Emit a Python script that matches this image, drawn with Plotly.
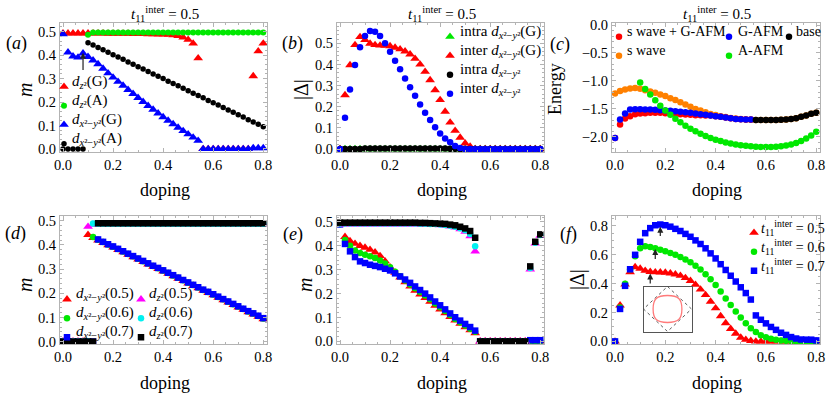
import plotly.graph_objects as go

# ---------------- data ----------------
doping = [0.00, 0.02, 0.04, 0.06, 0.08, 0.10, 0.12, 0.14, 0.16, 0.18,
          0.20, 0.22, 0.24, 0.26, 0.28, 0.30, 0.32, 0.34, 0.36, 0.38,
          0.40, 0.42, 0.44, 0.46, 0.48, 0.50, 0.52, 0.54, 0.56, 0.58,
          0.60, 0.62, 0.64, 0.66, 0.68, 0.70, 0.72, 0.74, 0.76, 0.78, 0.80]

# (a) magnetisation, t11 = 0.5
a_dz2_G = [0.493, 0.493, 0.493, 0.493, 0.493, 0.493, 0.493, 0.493, 0.493, 0.492,
           0.492, 0.492, 0.492, 0.492, 0.491, 0.491, 0.491, 0.490, 0.490, 0.489,
           0.489, 0.487, 0.485, 0.482, 0.476, 0.466, 0.450, 0.387, 0.0, 0.0,
           0.0, 0.0, 0.0, 0.0, 0.0, 0.0, 0.0, 0.0, 0.311, 0.417, 0.450]
a_dz2_A = [None, None, None, None, None, 0.487, 0.497, 0.497, 0.497, 0.497,
           0.497, 0.497, 0.497, 0.497, 0.497, 0.497, 0.497, 0.497, 0.497, 0.497,
           0.497, 0.497, 0.497, 0.497, 0.497, 0.497, 0.497, 0.497, 0.497, 0.497,
           0.497, 0.497, 0.497, 0.497, 0.497, 0.497, 0.497, 0.497, 0.497, 0.497, 0.497]
a_dx2_G = [0.490, 0.412, 0.395, 0.390, 0.408, 0.393, 0.378, 0.362, 0.343, 0.323,
           0.305, 0.287, 0.270, 0.252, 0.235, 0.218, 0.201, 0.184, 0.168, 0.152,
           0.136, 0.121, 0.106, 0.091, 0.077, 0.063, 0.049, 0.035, 0.0, 0.0,
           0.0, 0.0, 0.0, 0.0, 0.0, 0.0, 0.0, 0.0, 0.004, 0.004, 0.004]
a_dx2_A = [0.0, 0.0, 0.0, 0.0, 0.0, 0.453, 0.443, 0.433, 0.423, 0.412,
           0.402, 0.392, 0.382, 0.371, 0.361, 0.351, 0.341, 0.330, 0.320, 0.310,
           0.300, 0.289, 0.279, 0.269, 0.259, 0.248, 0.238, 0.228, 0.218, 0.207,
           0.197, 0.187, 0.177, 0.166, 0.156, 0.146, 0.136, 0.125, 0.115, 0.105, 0.095]
a_arrow = (0.08, 0.33, 0.41)  # doping, tail, head

# (b) pairing amplitudes
b_intra_G = [0.0, 0.0, 0.0, 0.0, 0.0, 0.0, 0.0, 0.0, 0.0, 0.0,
             0.0, 0.0, 0.0, 0.0, 0.0, 0.0, 0.0, 0.0, 0.0, 0.0,
             0.0, 0.0, 0.0, 0.0, 0.0, 0.0, 0.0, 0.0, 0.0, 0.0,
             0.0, 0.0, 0.0, 0.0, 0.0, 0.0, 0.0, 0.0, 0.0, 0.0, 0.0]
b_inter_G = [0.0, 0.255, 0.397, 0.492, 0.530, 0.516, 0.499, 0.492, 0.490, 0.489,
             0.487, 0.480, 0.472, 0.462, 0.448, 0.427, 0.400, 0.366, 0.326, 0.279,
             0.232, 0.177, 0.126, 0.087, 0.054, 0.027, 0.012, 0.0, 0.0, 0.0,
             0.0, 0.0, 0.0, 0.0, 0.0, 0.0, 0.0, 0.0, 0.0, 0.0, 0.0]
b_intra = [0.0, 0.0, 0.0, 0.0, 0.0, 0.003, 0.003, 0.003, 0.003, 0.003,
           0.003, 0.003, 0.003, 0.003, 0.003, 0.003, 0.003, 0.003, 0.003, 0.003,
           0.003, 0.002, 0.001, 0.001, 0.0, 0.0, 0.0, 0.0, 0.0, 0.0,
           0.0, 0.0, 0.0, 0.0, 0.0, 0.0, 0.0, 0.0, 0.0, 0.0, 0.0]
b_inter = [0.0, 0.148, 0.282, 0.397, 0.481, 0.535, 0.558, 0.555, 0.535, 0.500,
           0.460, 0.418, 0.377, 0.334, 0.292, 0.252, 0.211, 0.172, 0.137, 0.103,
           0.074, 0.050, 0.032, 0.014, 0.005, 0.0, 0.0, 0.0, 0.0, 0.0,
           0.0, 0.0, 0.0, 0.0, 0.0, 0.0, 0.0, 0.0, 0.0, 0.0, 0.0]

# (c) energies
c_swave = [-1.224, -1.180, -1.152, -1.134, -1.128, -1.140, -1.164, -1.188, -1.210, -1.240,
           -1.270, -1.310, -1.340, -1.380, -1.420, -1.460, -1.500, -1.530, -1.560, -1.590,
           -1.610, -1.630, -1.645, -1.660, -1.672, -1.682, -1.690, -1.692, -1.700, -1.700,
           -1.700, -1.700, -1.700, -1.695, -1.690, -1.678, -1.666, -1.642, -1.618, -1.588, -1.568]
c_swave_G = [-2.018, -1.779, -1.672, -1.630, -1.594, -1.582, -1.576, -1.570, -1.570, -1.570,
             -1.576, -1.582, -1.588, -1.594, -1.600, -1.606, -1.612, -1.615, -1.618, -1.618,
             -1.630, -1.642, -1.654, -1.666, -1.678, -1.684, -1.690, -1.690, None, None,
             None, None, None, None, None, None, None, None, None, None, None]
c_G = [-2.018, -1.690, -1.582, -1.510, -1.504, -1.504, -1.510, -1.510, -1.516, -1.522,
       -1.528, -1.534, -1.540, -1.552, -1.558, -1.570, -1.582, -1.594, -1.606, -1.618,
       -1.630, -1.642, -1.654, -1.666, -1.678, -1.684, -1.690, -1.690, None, None,
       None, None, None, None, None, None, None, None, None, None, None]
c_base = [None, None, None, None, None, None, None, None, None, None,
          None, None, None, None, None, None, None, None, None, None,
          None, None, None, None, None, None, None, None, -1.700, -1.700,
          -1.700, -1.700, -1.700, -1.695, -1.690, -1.678, -1.666, -1.642, -1.618, -1.588, -1.570]
c_A = [None, None, None, None, None, -1.027, -1.146, -1.242, -1.343, -1.445,
       -1.530, -1.605, -1.675, -1.740, -1.800, -1.855, -1.900, -1.945, -1.985, -2.020,
       -2.050, -2.075, -2.100, -2.120, -2.135, -2.150, -2.160, -2.168, -2.175, -2.179,
       -2.180, -2.180, -2.176, -2.168, -2.155, -2.137, -2.110, -2.075, -2.030, -1.975, -1.910]

# (d) A-AFM moments for t11 = 0.5 / 0.6 / 0.7
d_x05 = [0.0, 0.0, 0.0, 0.0, 0.0, 0.442, 0.429, 0.419, 0.409, 0.399,
         0.390, 0.380, 0.370, 0.360, 0.350, 0.340, 0.330, 0.320, 0.310, 0.301,
         0.291, 0.281, 0.271, 0.261, 0.251, 0.241, 0.231, 0.221, 0.211, 0.202,
         0.192, 0.182, 0.172, 0.162, 0.152, 0.142, 0.132, 0.122, 0.113, 0.103, 0.093]
d_x06 = [0.0, 0.0, 0.0, 0.0, 0.0, 0.0, 0.433, 0.422, 0.412, 0.402,
         0.393, 0.383, 0.373, 0.363, 0.353, 0.343, 0.333, 0.323, 0.313, 0.304,
         0.294, 0.284, 0.274, 0.264, 0.254, 0.244, 0.234, 0.224, 0.214, 0.205,
         0.195, 0.185, 0.175, 0.165, 0.155, 0.145, 0.135, 0.125, 0.116, 0.106, 0.096]
d_x07 = [0.0, 0.0, 0.0, 0.0, 0.0, 0.0, 0.0, 0.423, 0.413, 0.403,
         0.394, 0.384, 0.374, 0.364, 0.354, 0.344, 0.334, 0.324, 0.314, 0.305,
         0.295, 0.285, 0.275, 0.265, 0.255, 0.245, 0.235, 0.225, 0.215, 0.206,
         0.196, 0.186, 0.176, 0.166, 0.156, 0.146, 0.136, 0.126, 0.117, 0.107, 0.097]
d_z05 = [0.0, 0.0, 0.0, 0.0, 0.0, 0.476, 0.484, 0.486, 0.486, 0.486,
         0.486, 0.486, 0.486, 0.486, 0.486, 0.486, 0.486, 0.486, 0.486, 0.486,
         0.486, 0.486, 0.486, 0.486, 0.486, 0.486, 0.486, 0.486, 0.486, 0.486,
         0.486, 0.486, 0.486, 0.486, 0.486, 0.486, 0.486, 0.486, 0.486, 0.486, 0.486]
d_z06 = [0.0, 0.0, 0.0, 0.0, 0.0, 0.0, 0.489, 0.488, 0.488, 0.488,
         0.488, 0.488, 0.488, 0.488, 0.488, 0.488, 0.488, 0.488, 0.488, 0.488,
         0.488, 0.488, 0.488, 0.488, 0.488, 0.488, 0.488, 0.488, 0.488, 0.488,
         0.488, 0.488, 0.488, 0.488, 0.488, 0.488, 0.488, 0.488, 0.488, 0.488, 0.488]
d_z07 = [0.0, 0.0, 0.0, 0.0, 0.0, 0.0, 0.0, 0.490, 0.490, 0.490,
         0.490, 0.490, 0.490, 0.490, 0.490, 0.490, 0.490, 0.490, 0.490, 0.490,
         0.490, 0.490, 0.490, 0.490, 0.490, 0.490, 0.490, 0.490, 0.490, 0.490,
         0.490, 0.490, 0.490, 0.490, 0.490, 0.490, 0.490, 0.490, 0.490, 0.490, 0.490]

# (e) G-AFM moments for t11 = 0.5 / 0.6 / 0.7
e_x05 = [0.490, 0.438, 0.420, 0.409, 0.400, 0.393, 0.384, 0.373, 0.358, 0.336,
         0.310, 0.288, 0.268, 0.248, 0.230, 0.213, 0.197, 0.182, 0.166, 0.150,
         0.134, 0.118, 0.103, 0.088, 0.074, 0.060, 0.047, 0.035, 0.0, 0.0,
         0.0, 0.0, 0.0, 0.0, 0.0, 0.0, 0.0, 0.0, 0.0, 0.0, 0.0]
e_x06 = [0.490, 0.424, 0.400, 0.381, 0.370, 0.363, 0.356, 0.349, 0.339, 0.326,
         0.310, 0.292, 0.273, 0.255, 0.238, 0.222, 0.207, 0.192, 0.176, 0.159,
         0.143, 0.127, 0.110, 0.094, 0.080, 0.066, 0.053, 0.040, 0.0, 0.0,
         0.0, 0.0, 0.0, 0.0, 0.0, 0.0, 0.0, 0.0, 0.0, 0.0, 0.0]
e_x07 = [0.490, 0.408, 0.377, 0.353, 0.335, 0.328, 0.321, 0.316, 0.311, 0.304,
         0.297, 0.285, 0.272, 0.259, 0.245, 0.230, 0.215, 0.200, 0.184, 0.167,
         0.151, 0.134, 0.117, 0.101, 0.087, 0.073, 0.060, 0.045, 0.0, 0.0,
         0.0, 0.0, 0.0, 0.0, 0.0, 0.0, 0.0, 0.0, 0.005, 0.005, 0.005]
e_z05 = [0.490, 0.490, 0.490, 0.490, 0.490, 0.490, 0.490, 0.490, 0.490, 0.490,
         0.490, 0.490, 0.490, 0.490, 0.490, 0.490, 0.490, 0.489, 0.489, 0.488,
         0.487, 0.485, 0.482, 0.477, 0.470, 0.460, 0.441, 0.377, 0.0, 0.0,
         0.0, 0.0, 0.0, 0.0, 0.0, 0.0, 0.0, 0.0, 0.302, 0.410, 0.443]
e_z06 = [0.494, 0.494, 0.494, 0.494, 0.494, 0.494, 0.494, 0.494, 0.494, 0.494,
         0.494, 0.494, 0.494, 0.494, 0.494, 0.494, 0.493, 0.493, 0.492, 0.491,
         0.489, 0.487, 0.484, 0.480, 0.474, 0.465, 0.450, 0.398, 0.0, 0.0,
         0.0, 0.0, 0.0, 0.0, 0.0, 0.0, 0.0, 0.0, 0.307, 0.413, 0.445]
e_z07 = [0.497, 0.497, 0.497, 0.497, 0.497, 0.497, 0.497, 0.497, 0.497, 0.497,
         0.497, 0.497, 0.497, 0.497, 0.497, 0.497, 0.496, 0.496, 0.495, 0.494,
         0.493, 0.492, 0.489, 0.486, 0.480, 0.473, 0.462, 0.434, 0.0, 0.0,
         0.0, 0.0, 0.0, 0.0, 0.0, 0.0, 0.0, 0.0, 0.314, 0.417, 0.448]

# (f) |Delta| for t11 = 0.5 / 0.6 / 0.7
f_05 = [0.0, 0.250, 0.395, 0.480, 0.515, 0.505, 0.490, 0.482, 0.480, 0.479,
        0.477, 0.472, 0.465, 0.455, 0.440, 0.420, 0.393, 0.360, 0.322, 0.276,
        0.230, 0.176, 0.127, 0.087, 0.054, 0.027, 0.012, 0.004, 0.0, 0.0,
        0.0, 0.0, 0.0, 0.0, 0.0, 0.0, 0.0, 0.0, 0.0, 0.0, 0.0]
f_06 = [0.0, 0.235, 0.400, 0.500, 0.590, 0.645, 0.660, 0.655, 0.645, 0.635,
        0.625, 0.612, 0.600, 0.585, 0.568, 0.548, 0.525, 0.498, 0.465, 0.430,
        0.390, 0.345, 0.298, 0.252, 0.207, 0.165, 0.125, 0.092, 0.065, 0.043,
        0.028, 0.018, 0.011, 0.007, 0.004, 0.002, 0.001, 0.0, 0.0, 0.0, 0.0]
f_07 = [0.0, 0.225, 0.385, 0.500, 0.600, 0.690, 0.750, 0.785, 0.805, 0.810,
        0.805, 0.795, 0.780, 0.765, 0.745, 0.725, 0.700, 0.675, 0.645, 0.610,
        0.575, 0.535, 0.495, 0.455, 0.415, 0.375, 0.335, 0.290, 0.180, 0.150,
        0.125, 0.100, 0.080, 0.060, 0.045, 0.030, 0.020, 0.013, 0.012, 0.012, 0.007]
f_arrows = [(0.14, 0.39, 0.47), (0.16, 0.56, 0.64), (0.18, 0.72, 0.795)]

# inset sketch (Fermi surface inside the zone boundary)
INSET_ZONE = "M 0 1 L 1 0 L 0 -1 L -1 0 Z"
INSET_FS = ("M 0.6 0 C 0.6 0.45 0.45 0.6 0 0.6 C -0.45 0.6 -0.6 0.45 -0.6 0 "
            "C -0.6 -0.45 -0.45 -0.6 0 -0.6 C 0.45 -0.6 0.6 -0.45 0.6 0 Z")

# ---------------- style ----------------
W, H = 830, 395
FONT = "Liberation Serif"
GREY = "#b3b3b3"
RED, GREEN, BLUE, BLACK = "#ff0000", "#00e800", "#0000ff", "#000000"
ORANGE, MAGENTA, CYAN = "#ff8000", "#ff00ff", "#00f0f0"


def px(x):
    return x / W


def py(y):
    return 1 - y / H


COLS = [(60, 267), (337, 544), (612, 820)]
ROWS = [(23, 152), (216, 344)]
XRANGE = [-0.012, 0.815]
panels = {
    1: dict(col=0, row=0, yr=[-0.013, 0.537], dt=0.1, mdt=0.02),
    2: dict(col=1, row=0, yr=[-0.014, 0.596], dt=0.1, mdt=0.02),
    3: dict(col=2, row=0, yr=[-2.27, 0.036], dt=0.5, mdt=0.1),
    4: dict(col=0, row=1, yr=[-0.010, 0.520], dt=0.1, mdt=0.02),
    5: dict(col=1, row=1, yr=[-0.011, 0.525], dt=0.1, mdt=0.02),
    6: dict(col=2, row=1, yr=[-0.018, 0.869], dt=0.2, mdt=0.05),
}

fig = go.Figure()
layout = {}
for i, p in panels.items():
    s = "" if i == 1 else str(i)
    l, r = COLS[p["col"]]
    t, b = ROWS[p["row"]]
    common = dict(showline=True, linecolor=GREY, linewidth=1, mirror="allticks",
                  ticks="inside", ticklen=4, tickcolor=GREY, showgrid=False,
                  zeroline=False, tickformat=".1f", tickfont=dict(size=14.5),
                  fixedrange=True, automargin=False)
    layout["xaxis" + s] = dict(domain=[px(l), px(r)], range=XRANGE, anchor="y" + s,
                               dtick=0.2, tick0=0,
                               minor=dict(dtick=0.05, ticks="inside", ticklen=2,
                                          tickcolor=GREY), **common)
    layout["yaxis" + s] = dict(domain=[py(b), py(t)], range=p["yr"], anchor="x" + s,
                               dtick=p["dt"], tick0=0,
                               minor=dict(dtick=p["mdt"], ticks="inside", ticklen=2,
                                          tickcolor=GREY), **common)

# inset axes in (f)
inset_ax = dict(range=[-1, 1], showline=True, mirror=True, linecolor="#555",
                linewidth=1, showticklabels=False, ticks="", showgrid=False,
                zeroline=False, fixedrange=True, automargin=False)
layout["xaxis7"] = dict(domain=[px(643.5), px(691.5)], anchor="y7", **inset_ax)
layout["yaxis7"] = dict(domain=[py(331.5), py(286.5)], anchor="x7", **inset_ax)
fig.add_trace(go.Scatter(x=[None], y=[None], xaxis="x7", yaxis="y7", showlegend=False,
                         hoverinfo="skip"))

SYM = {"tri": ("triangle-up", 8.5), "dot": ("circle", 6.5), "sq": ("square", 6.5)}


def add(panel, y, label, color, kind, legend=None, rank=1000, size=None):
    s = "" if panel == 1 else str(panel)
    sym, sz = SYM[kind]
    fig.add_trace(go.Scatter(
        x=doping, y=y, mode="markers", name="",
        hovertemplate=label + ": %{y}<extra></extra>",
        marker=dict(symbol=sym, size=size or sz, color=color, line=dict(width=0)),
        xaxis="x" + s, yaxis="y" + s,
        showlegend=legend is not None, legend=legend or "legend", legendrank=rank))


DX = "<i>d</i><sub><i>x</i>²−<i>y</i>²</sub>"
DZ = "<i>d</i><sub><i>z</i>²</sub>"
T11 = "<i>t</i><sub>11</sub><sup>inter</sup>"

# (a)
add(1, a_dz2_G, "dz2(G)", RED, "tri", "legend", 1)
add(1, a_dz2_A, "dz2(A)", GREEN, "dot", "legend", 2, 6)
add(1, a_dx2_G, "dx2-y2(G)", BLUE, "tri", "legend", 3)
add(1, a_dx2_A, "dx2-y2(A)", BLACK, "dot", "legend", 4, 5.5)
# (b)
add(2, b_intra_G, "intra G", GREEN, "tri", "legend2", 1)
add(2, b_inter_G, "inter G", RED, "tri", "legend2", 2)
add(2, b_intra, "intra", BLACK, "dot", "legend2", 3)
add(2, b_inter, "inter", BLUE, "dot", "legend2", 4)
# (c)
add(3, c_swave, "s wave", ORANGE, "dot", "legend3", 2)
add(3, c_swave_G, "s wave + G-AFM", RED, "dot", "legend3", 1)
add(3, c_G, "G-AFM", BLUE, "dot", "legend4", 1)
add(3, c_base, "base", BLACK, "dot", "legend5", 1)
add(3, c_A, "A-AFM", GREEN, "dot", "legend4", 2)
# (d)
add(4, d_x05, "dx2-y2(0.5)", RED, "tri", "legend6", 1)
add(4, d_x06, "dx2-y2(0.6)", GREEN, "dot", "legend6", 2)
add(4, d_x07, "dx2-y2(0.7)", BLUE, "sq", "legend6", 3)
add(4, d_z05, "dz2(0.5)", MAGENTA, "tri", "legend7", 1)
add(4, d_z06, "dz2(0.6)", CYAN, "dot", "legend7", 2)
add(4, d_z07, "dz2(0.7)", BLACK, "sq", "legend7", 3)
# (e)
add(5, e_x05, "dx2-y2(0.5)", RED, "tri")
add(5, e_x06, "dx2-y2(0.6)", GREEN, "dot")
add(5, e_x07, "dx2-y2(0.7)", BLUE, "sq")
add(5, e_z05, "dz2(0.5)", MAGENTA, "tri")
add(5, e_z06, "dz2(0.6)", CYAN, "dot")
add(5, e_z07, "dz2(0.7)", BLACK, "sq")
# (f)
add(6, f_05, "t=0.5", RED, "tri", "legend8", 1)
add(6, f_06, "t=0.6", GREEN, "dot", "legend8", 2)
add(6, f_07, "t=0.7", BLUE, "sq", "legend8", 3)

# legends: marker column from plotly, label text as annotations
ROWSTEP = 19
leg_specs = {
    "legend": (64, 81.7, 70, 15, [DZ + "(G)", DZ + "(A)", DX + "(G)", DX + "(A)"]),
    "legend2": (450, 31.7, 458, 15, ["intra " + DX + "(G)", "inter " + DX + "(G)",
                                     "intra " + DX, "inter " + DX]),
    "legend3": (619, 31.7, 625, 14, ["s wave + G-AFM", "s wave"]),
    "legend4": (729, 31.7, 736, 14, ["G-AFM", "A-AFM"]),
    "legend5": (789, 31.7, 794, 14, ["base"]),
    "legend6": (67, 294.3, 74, 15, [DX + "(0.5)", DX + "(0.6)", DX + "(0.7)"]),
    "legend7": (141, 294.3, 147, 15, [DZ + "(0.5)", DZ + "(0.6)", DZ + "(0.7)"]),
    "legend8": (754, 227.7, 759, 14, [T11 + " = 0.5", T11 + " = 0.6", T11 + " = 0.7"]),
}
annotations = []
for key, (mx, my, tx, fs, labels) in leg_specs.items():
    layout[key] = dict(x=px(mx - 20), y=py(my - 9.5), xanchor="left", yanchor="top",
                       bgcolor="rgba(0,0,0,0)", borderwidth=0, font=dict(size=10),
                       itemwidth=30, tracegroupgap=0, itemclick=False,
                       itemdoubleclick=False)
    for k, lab in enumerate(labels):
        annotations.append(dict(x=px(tx), y=py(my + ROWSTEP * k), xref="paper",
                                yref="paper", xanchor="left", yanchor="middle",
                                text=lab, showarrow=False, font=dict(size=fs)))


def note(x, y, text, size, angle=0):
    annotations.append(dict(x=px(x), y=py(y), xref="paper", yref="paper",
                            xanchor="center", yanchor="middle", text=text,
                            showarrow=False, font=dict(size=size), textangle=angle))


for c in range(3):
    mid = (COLS[c][0] + COLS[c][1]) / 2 + 1
    note(mid, 14, T11 + " = 0.5", 15)
    note(mid, 190, "doping", 18)
    note(mid, 383, "doping", 18)

for (x, y, lab) in [(16, 43, "a"), (292, 43, "b"), (560, 45, "c"),
                    (15, 233, "d"), (293, 235, "e"), (568, 235, "f")]:
    note(x, y, "(<i>" + lab + "</i>)", 18)

note(25, 90, "<i>m</i>", 20, -90)
note(301, 90, "|Δ|", 20, -90)
note(555, 89, "Energy", 18, -90)
note(25, 285, "<i>m</i>", 20, -90)
note(305, 285, "<i>m</i>", 20, -90)
note(577, 280, "|Δ|", 20, -90)

# arrows
arrow_list = [(1, a_arrow)] + [(6, a) for a in f_arrows]
for panel, (xd, tail, head) in arrow_list:
    s = "" if panel == 1 else str(panel)
    annotations.append(dict(x=xd, y=head, ax=xd, ay=tail, xref="x" + s, yref="y" + s,
                            axref="x" + s, ayref="y" + s, text="", showarrow=True,
                            arrowhead=2, arrowsize=1, arrowwidth=1.2,
                            arrowcolor="#222"))

shapes = [
    dict(type="path", path=INSET_ZONE, xref="x7", yref="y7",
         line=dict(color="#333", width=0.8, dash="dot")),
    dict(type="path", path=INSET_FS, xref="x7", yref="y7",
         line=dict(color="#ff7a7a", width=1.3)),
]

fig.update_layout(
    width=W, height=H, margin=dict(l=0, r=0, t=0, b=0, autoexpand=False),
    paper_bgcolor="white", plot_bgcolor="white",
    font=dict(family=FONT, size=13, color="black"),
    showlegend=True, annotations=annotations, shapes=shapes, hovermode="closest",
    **layout,
)

# drop the browser's default body margin so the figure fills the window exactly
fig.write_html("out.html", config={"displayModeBar": False},
               post_script="document.body.style.margin='0';"
                           "document.body.style.overflow='hidden';")
